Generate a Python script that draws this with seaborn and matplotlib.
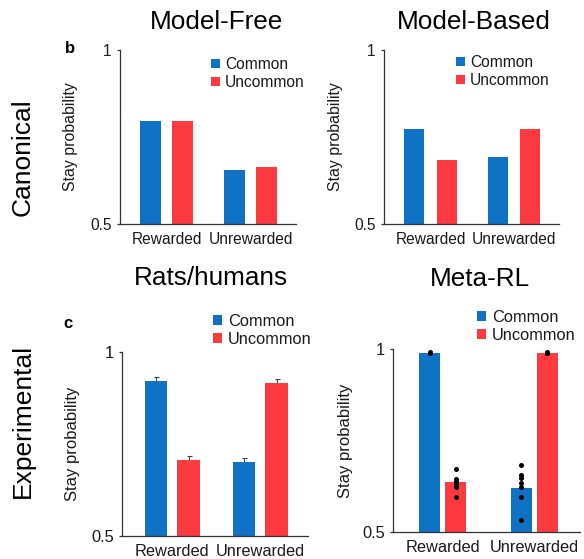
import numpy as np
import pandas as pd
import matplotlib
matplotlib.use("Agg")
import matplotlib.pyplot as plt
import seaborn as sns

# ---------------- data ----------------
conditions = ["Rewarded", "Unrewarded"]
transitions = ["Common", "Uncommon"]
ytick_values = [0.5, 1.0]
ytick_labels = ["0.5", "1"]

mf_common = [0.797, 0.655]
mf_uncommon = [0.797, 0.664]

mb_common = [0.773, 0.693]
mb_uncommon = [0.684, 0.773]

rats_common = [0.922, 0.702]
rats_uncommon = [0.707, 0.915]
rats_common_err = [0.011, 0.010]
rats_uncommon_err = [0.011, 0.011]

meta_common = [0.990, 0.621]
meta_uncommon = [0.637, 0.990]
meta_dots_rew_common = [0.990, 0.989, 0.991]
meta_dots_rew_uncommon = [0.671, 0.645, 0.638, 0.633, 0.628, 0.622, 0.596]
meta_dots_unrew_common = [0.683, 0.656, 0.647, 0.635, 0.624, 0.596, 0.533]
meta_dots_unrew_uncommon = [0.990, 0.988, 0.992]

col_titles = ["Model-Free", "Model-Based", "Rats/humans", "Meta-RL"]
row_titles = ["Canonical", "Experimental"]
panel_letters = ["b", "c"]
ylabel_text = "Stay probability"

# ---------------- style ----------------
sns.set_style("ticks")
plt.rcParams["font.family"] = ["Liberation Sans", "DejaVu Sans"]
plt.rcParams["text.color"] = "black"
BLUE = "#0F72C4"
RED = "#FC3A40"
palette = {"Common": BLUE, "Uncommon": RED}
AXC = "#333333"
TXT = "#1a1a1a"

W, H = 584, 559
fig = plt.figure(figsize=(W / 100, H / 100), dpi=100)


def fx(x):
    return x / W


def fy(y):
    return 1 - y / H


def make_df(common, uncommon):
    return pd.DataFrame({
        "condition": conditions * 2,
        "transition": [transitions[0]] * 2 + [transitions[1]] * 2,
        "stay": list(common) + list(uncommon),
    })


def panel(l, r, t, b, common, uncommon, width, gap, xlim, fs, leg_xy, ylab_x):
    ax = fig.add_axes([fx(l), fy(b), (r - l) / W, (b - t) / H])
    df = make_df(common, uncommon)
    sns.barplot(data=df, x="condition", y="stay", hue="transition",
                order=conditions, hue_order=transitions, palette=palette,
                width=width, gap=gap, saturation=1, linewidth=0,
                errorbar=None, legend=False, ax=ax)
    ax.set_ylim(0.5, 1.0)
    ax.set_xlim(*xlim)
    ax.set_yticks(ytick_values)
    ax.set_yticklabels(ytick_labels)
    ax.set_xlabel("")
    ax.set_ylabel(ylabel_text, fontsize=fs + 0.2, color=TXT)
    ax.yaxis.set_label_coords(ylab_x, 0.5)
    for s in ["top", "right"]:
        ax.spines[s].set_visible(False)
    for s in ["left", "bottom"]:
        ax.spines[s].set_color(AXC)
        ax.spines[s].set_linewidth(0.9)
    ax.tick_params(axis="y", length=2.5, width=0.9, color=AXC, pad=3.5,
                   labelsize=fs, labelcolor=TXT)
    ax.tick_params(axis="x", length=0, pad=6, labelsize=fs, labelcolor=TXT)
    handles = [c.patches[0] for c in ax.containers]
    leg = ax.legend(handles, transitions, loc="upper left",
                    bbox_to_anchor=(fx(leg_xy[0]), fy(leg_xy[1])),
                    bbox_transform=fig.transFigure, frameon=False, fontsize=fs,
                    handlelength=0.55, handleheight=0.55, handletextpad=0.35,
                    labelspacing=0.18, borderpad=0, borderaxespad=0)
    for txt in leg.get_texts():
        txt.set_color(TXT)
    return ax


ax1 = panel(120, 296, 50, 224, mf_common, mf_uncommon, 0.76, 0.34,
            (-0.557, 1.539), 11.2, (211, 57), -0.239)
ax2 = panel(384, 559, 50, 224, mb_common, mb_uncommon, 0.78, 0.38,
            (-0.557, 1.539), 11.2, (456, 55), -0.234)
ax3 = panel(122, 308, 352, 536, rats_common, rats_uncommon, 0.74, 0.32,
            (-0.571, 1.543), 11.8, (213, 314), -0.226)
ax4 = panel(393, 580, 349, 532, meta_common, meta_uncommon, 0.567, 0.19,
            (-0.54, 1.499), 11.8, (477, 310), -0.214)

# error bars (rats/humans)
for cont, err in zip(ax3.containers, [rats_common_err, rats_uncommon_err]):
    xs = [p.get_x() + p.get_width() / 2 for p in cont.patches]
    ys = [p.get_height() + p.get_y() for p in cont.patches]
    ax3.errorbar(xs, ys, yerr=err, fmt="none", ecolor="#444444",
                 elinewidth=0.8, capsize=1.8, capthick=0.8, zorder=0.9)

# individual dots (meta-RL)
dots = [[meta_dots_rew_common, meta_dots_unrew_common],
        [meta_dots_rew_uncommon, meta_dots_unrew_uncommon]]
for cont, dlist in zip(ax4.containers, dots):
    for p, vals in zip(cont.patches, dlist):
        xc = p.get_x() + p.get_width() / 2
        ax4.scatter([xc] * len(vals), vals, s=13, color="black",
                    linewidths=0, zorder=3, clip_on=False)

# column titles
tfs = 18.8
fig.text(fx(216.5), fy(29.3), col_titles[0], fontsize=tfs, ha="center", va="baseline", color="black")
fig.text(fx(474), fy(29.3), col_titles[1], fontsize=tfs, ha="center", va="baseline", color="black")
fig.text(fx(211), fy(285), col_titles[2], fontsize=tfs, ha="center", va="baseline", color="black")
fig.text(fx(480), fy(286), col_titles[3], fontsize=tfs, ha="center", va="baseline", color="black")

# row titles
fig.text(fx(22.5), fy(157), row_titles[0], fontsize=19, rotation=90,
         ha="center", va="center", color="black")
fig.text(fx(23), fy(421), row_titles[1], fontsize=19, rotation=90,
         ha="center", va="center", color="black")

# panel letters
fig.text(fx(69.5), fy(53), panel_letters[0], fontsize=12, fontweight="bold",
         ha="center", va="baseline", color="black")
fig.text(fx(67.5), fy(328), panel_letters[1], fontsize=12, fontweight="bold",
         ha="center", va="baseline", color="black")

fig.savefig("out.png", dpi=100)
